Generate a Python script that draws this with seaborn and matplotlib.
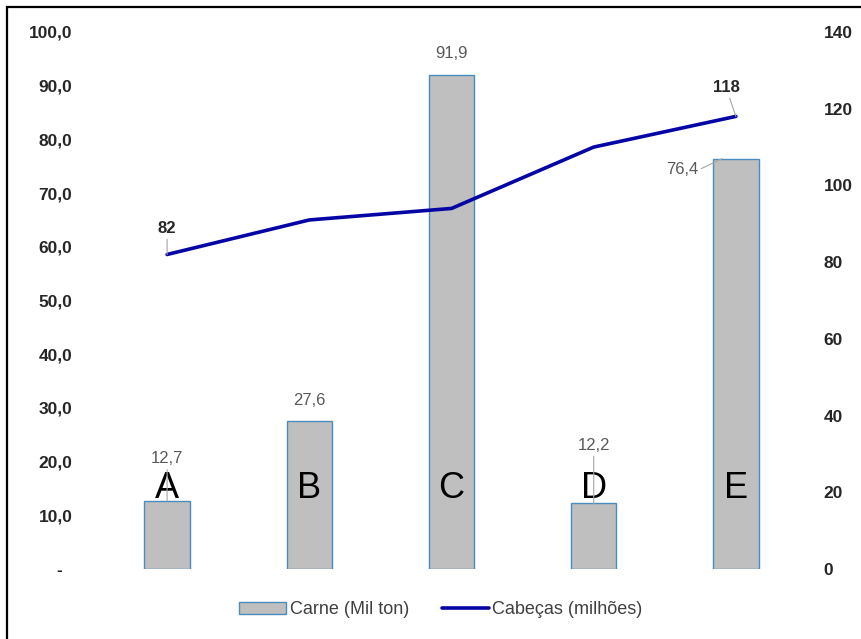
import numpy as np
import pandas as pd
import matplotlib
matplotlib.use("Agg")
import matplotlib.pyplot as plt
from matplotlib.patches import Patch, Rectangle
from matplotlib.lines import Line2D
from matplotlib.ticker import FuncFormatter
import seaborn as sns

categories = ["A", "B", "C", "D", "E"]
carne = [12.7, 27.6, 91.9, 12.2, 76.4]
cabecas = [82, 91, 94, 110, 118]
left_ticks = [0, 10, 20, 30, 40, 50, 60, 70, 80, 90, 100]
right_ticks = [0, 20, 40, 60, 80, 100, 120, 140]
legend_labels = ["Carne (Mil ton)", "Cabeças (milhões)"]

sns.set_theme(style="white")
plt.rcParams["font.family"] = ["Liberation Sans", "DejaVu Sans"]

BAR_FILL = "#BFBFBF"
BAR_EDGE = "#4A8CBE"
LINE_C = "#0505A5"
LBL_GRAY = "#595959"

fig = plt.figure(figsize=(8.61, 6.39), dpi=100)
ax = fig.add_axes([96/861, 1 - 569/639, (807-96)/861, (569-32)/639])

df = pd.DataFrame({"cat": categories, "carne": carne})
sns.barplot(data=df, x="cat", y="carne", ax=ax, color=BAR_FILL, width=0.32,
            edgecolor=BAR_EDGE, linewidth=1.0, saturation=1)
ax.set_xlim(-0.5, 4.5)
ax.set_ylim(0, 100)
ax.set_yticks(left_ticks)
ax.yaxis.set_major_formatter(FuncFormatter(
    lambda v, p: "-  " if v == 0 else f"{v:.1f}".replace(".", ",")))
ax.set_xlabel("")
ax.set_ylabel("")
ax.set_xticks([])
for lab in ax.get_yticklabels():
    lab.set_fontweight("bold")
ax.tick_params(axis="y", labelsize=12.5, colors="#262626", length=0, pad=17)
for s in ax.spines.values():
    s.set_visible(False)

ax2 = ax.twinx()
sns.lineplot(x=np.arange(len(categories)), y=cabecas, ax=ax2, color=LINE_C,
             linewidth=2.6, legend=False)
ax2.set_ylim(0, 140)
ax2.set_yticks(right_ticks)
ax2.set_ylabel("")
for lab in ax2.get_yticklabels():
    lab.set_fontweight("bold")
ax2.tick_params(axis="y", labelsize=12.5, colors="#262626", length=0, pad=12)
for s in ax2.spines.values():
    s.set_visible(False)
ax2.set_xlim(-0.5, 4.5)

# category letters inside bars
for i, c in enumerate(categories):
    ax.text(i, 15, c, ha="center", va="center", fontsize=26, color="black",
            family=["Liberation Sans Narrow", "Liberation Sans", "DejaVu Sans"])

# bar value labels
def fmt(v):
    return f"{v:.1f}".replace(".", ",")

lead = dict(arrowstyle="-", color="#A6A6A6", lw=0.8, shrinkA=0, shrinkB=0)
bar_lbl_pos = [(0, 20.5), (1, 31.3), (2, 96.0), (3, 23.0), (4, 74.4)]
for i, (v, (tx, ty)) in enumerate(zip(carne, bar_lbl_pos)):
    if i in (0, 3):
        ax.annotate(fmt(v), xy=(i, v), xytext=(tx, ty), textcoords="data",
                    ha="center", va="center", fontsize=12, color=LBL_GRAY,
                    arrowprops=dict(lead, relpos=(0.5, 0)))
    elif i == 4:
        ax.annotate(fmt(v), xy=(i - 0.1, v), xytext=(i - 0.38, 74.4), textcoords="data",
                    ha="center", va="center", fontsize=12, color=LBL_GRAY,
                    arrowprops=dict(lead, relpos=(1.05, 0.5)))
    else:
        ax.text(tx, ty, fmt(v), ha="center", va="center", fontsize=12, color=LBL_GRAY)

# line labels
ax2.annotate(str(cabecas[0]), xy=(0, cabecas[0]), xytext=(0, 88.8), textcoords="data",
             ha="center", va="center", fontsize=12, fontweight="bold", color="#262626",
             arrowprops=dict(lead, relpos=(0.5, 0)))
ax2.annotate(str(cabecas[4]), xy=(4, cabecas[4]), xytext=(3.93, 125.5), textcoords="data",
             ha="center", va="center", fontsize=12, fontweight="bold", color="#262626",
             arrowprops=dict(lead, relpos=(0.6, 0)))

handles = [Patch(facecolor=BAR_FILL, edgecolor=BAR_EDGE, linewidth=1.0),
           Line2D([0], [0], color=LINE_C, linewidth=2.6)]
fig.legend(handles, legend_labels, loc="center", bbox_to_anchor=(441/861, 1 - 610/639),
           ncol=2, frameon=False, fontsize=13, handlelength=2.6, handleheight=0.6,
           handletextpad=0.2, columnspacing=1.8, labelcolor="#404040")

fig.patches.append(Rectangle((7/861, -0.05), 1.2, 1 - 7/639 + 0.05,
                             transform=fig.transFigure, fill=False,
                             edgecolor="black", linewidth=1.6, zorder=10))

fig.savefig("out.png", dpi=100)
